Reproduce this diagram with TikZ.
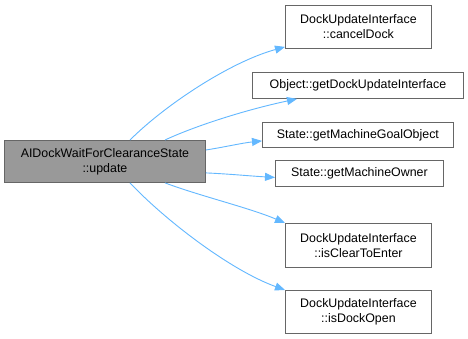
\documentclass[tikz,border=0pt]{standalone}
\usepackage{fontspec}
\setmainfont{Liberation Sans}
\usetikzlibrary{calc,arrows.meta}
\definecolor{edgeblue}{HTML}{63B8FF}
\definecolor{boxline}{HTML}{666666}
\definecolor{boxfill}{HTML}{999999}
\begin{document}
\begin{tikzpicture}[x=1pt,y=-1pt,
  fn/.style={draw=boxline,line width=0.9pt,fill=white,inner sep=0pt,align=center,
    font=\fontsize{12.4}{15}\selectfont,anchor=north west},
  call/.style={draw=edgeblue,line width=0.9pt,-{Triangle[length=10pt,width=8pt]}}]
  \useasboundingbox (0,0) rectangle (468,339);
  \fill[white] (0,0) rectangle (468,339);
  % caller
  \node[fn,fill=boxfill,minimum width=201pt,minimum height=42pt] (main) at (4,140)
    {AIDockWaitForClearanceState\\::update};
  % callees
  \node[fn,minimum width=146pt,minimum height=43pt] (cancel) at (285,5)
    {DockUpdateInterface\\::cancelDock};
  \node[fn,minimum width=211pt,minimum height=26pt] (getdui) at (252,72)
    {Object::getDockUpdateInterface};
  \node[fn,minimum width=191pt,minimum height=25pt] (goal) at (262,122)
    {State::getMachineGoalObject};
  \node[fn,minimum width=168pt,minimum height=26pt] (owner) at (275,160)
    {State::getMachineOwner};
  \node[fn,minimum width=146pt,minimum height=44pt] (clear) at (285,223)
    {DockUpdateInterface\\::isClearToEnter};
  \node[fn,minimum width=146pt,minimum height=43pt] (open) at (285,290)
    {DockUpdateInterface\\::isDockOpen};
  % calls
  \draw[call] ($(main.north west)+(126,0)$) .. controls (165,105) and (230,62) .. ($(cancel.south west)+(0,-2)$);
  \draw[call] ($(main.north west)+(161,0)$) .. controls (195,126) and (245,110) .. ($(getdui.south west)+(45,0)$);
  \draw[call] ($(main.north east)+(0,10)$) .. controls (225,147) and (242,143) .. ($(goal.south west)+(0,-7)$);
  \draw[call] ($(main.south east)+(0,-10)$) .. controls (230,174) and (250,176) .. ($(owner.west)+(0,4)$);
  \draw[call] ($(main.south west)+(161,0)$) .. controls (200,196) and (250,208) .. (clear.north west);
  \draw[call] ($(main.south west)+(126,0)$) .. controls (165,220) and (230,270) .. (open.north west);
\end{tikzpicture}
\end{document}
